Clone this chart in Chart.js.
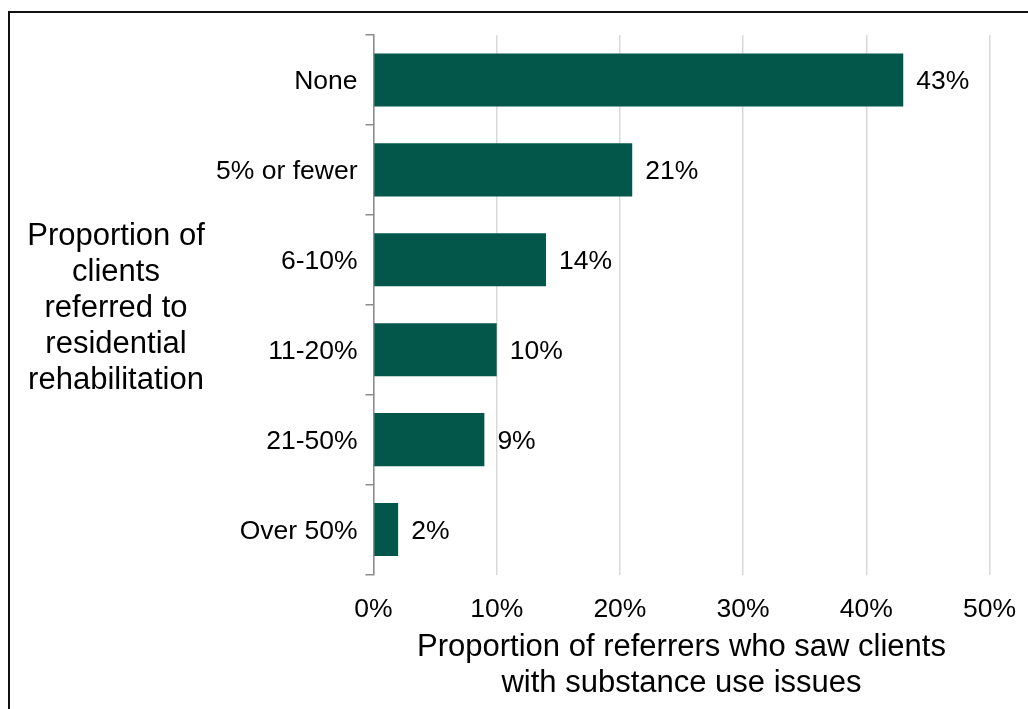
<!DOCTYPE html>
<html>
<head>
<meta charset="utf-8">
<script src="https://cdn.jsdelivr.net/npm/chart.js@4/dist/chart.umd.min.js"></script>
<style>
  html, body { margin: 0; padding: 0; background: #ffffff; }
  #wrap { position: relative; width: 1028px; height: 709px; overflow: hidden; }
  #frame {
    position: absolute; left: 8px; top: 11px; width: 1100px; height: 800px;
    border-left: 2px solid #111; border-top: 2px solid #111; pointer-events: none;
  }
  canvas { position: absolute; left: 0; top: 0; }
</style>
</head>
<body>
<div id="wrap">
  <canvas id="chart" width="1028" height="709"></canvas>
  <div id="frame"></div>
</div>
<script>
// Share of referrers by proportion of clients referred to residential rehabilitation
const categories = ['None', '5% or fewer', '6-10%', '11-20%', '21-50%', 'Over 50%'];
const shares = [43, 21, 14, 10, 9, 2];
const yTitleLines = ['Proportion of', 'clients', 'referred to', 'residential', 'rehabilitation'];
const xTitleLines = ['Proportion of referrers who saw clients', 'with substance use issues'];

const FONT = "'Liberation Sans', Arial, sans-serif";
const BAR = '#03574A';

// Value labels to the right of each bar
const valueLabels = {
  id: 'valueLabels',
  afterDatasetsDraw(chart) {
    const ctx = chart.ctx;
    const meta = chart.getDatasetMeta(0);
    ctx.save();
    ctx.font = '26.5px ' + FONT;
    ctx.fillStyle = '#000';
    ctx.textAlign = 'left';
    ctx.textBaseline = 'middle';
    meta.data.forEach((bar, i) => {
      ctx.fillText(shares[i] + '%', bar.x + 13, bar.y + 2);
    });
    ctx.restore();
  }
};

// Horizontal, multi-line title for the category axis
const yAxisTitle = {
  id: 'yAxisTitle',
  afterDraw(chart) {
    const ctx = chart.ctx;
    const area = chart.chartArea;
    const lh = 36;
    const cy = (area.top + area.bottom) / 2 + 4;
    ctx.save();
    ctx.font = '31px ' + FONT;
    ctx.fillStyle = '#000';
    ctx.textAlign = 'center';
    ctx.textBaseline = 'middle';
    const n = yTitleLines.length;
    yTitleLines.forEach((t, i) => {
      ctx.fillText(t, 116, cy + (i - (n - 1) / 2) * lh);
    });
    ctx.restore();
  }
};

new Chart(document.getElementById('chart'), {
  type: 'bar',
  data: {
    labels: categories,
    datasets: [{
      data: shares,
      backgroundColor: BAR,
      borderWidth: 0,
      categoryPercentage: 1,
      barPercentage: 0.59
    }]
  },
  options: {
    indexAxis: 'y',
    responsive: false,
    animation: false,
    devicePixelRatio: 1,
    layout: { padding: { top: 35, right: 38.5, left: 0, bottom: 0 } },
    plugins: {
      legend: { display: false },
      tooltip: { enabled: false }
    },
    scales: {
      x: {
        min: 0,
        max: 50,
        position: 'bottom',
        afterFit(scale) {
          scale.height = 134.5;
          scale.paddingLeft = 0;
          scale.paddingRight = 0;
        },
        ticks: {
          stepSize: 10,
          padding: 19,
          color: '#000',
          font: { family: FONT, size: 26.5 },
          callback: v => v + '%'
        },
        grid: {
          color: '#d9d9d9',
          lineWidth: 1.5,
          drawTicks: false
        },
        border: { display: false },
        title: {
          display: true,
          text: xTitleLines,
          color: '#000',
          font: { family: FONT, size: 31, lineHeight: 1.16 },
          padding: { top: 0, bottom: 8 }
        }
      },
      y: {
        position: 'left',
        afterFit(scale) { scale.width = 373.5; },
        ticks: {
          padding: 8,
          labelOffset: 2,
          color: '#000',
          font: { family: FONT, size: 26.5 }
        },
        grid: {
          offset: true,
          drawOnChartArea: false,
          drawTicks: true,
          tickLength: 8,
          color: '#8c8c8c',
          lineWidth: 1.5
        },
        border: { display: true, color: '#8c8c8c', width: 1.5 }
      }
    }
  },
  plugins: [valueLabels, yAxisTitle]
});
</script>
</body>
</html>
